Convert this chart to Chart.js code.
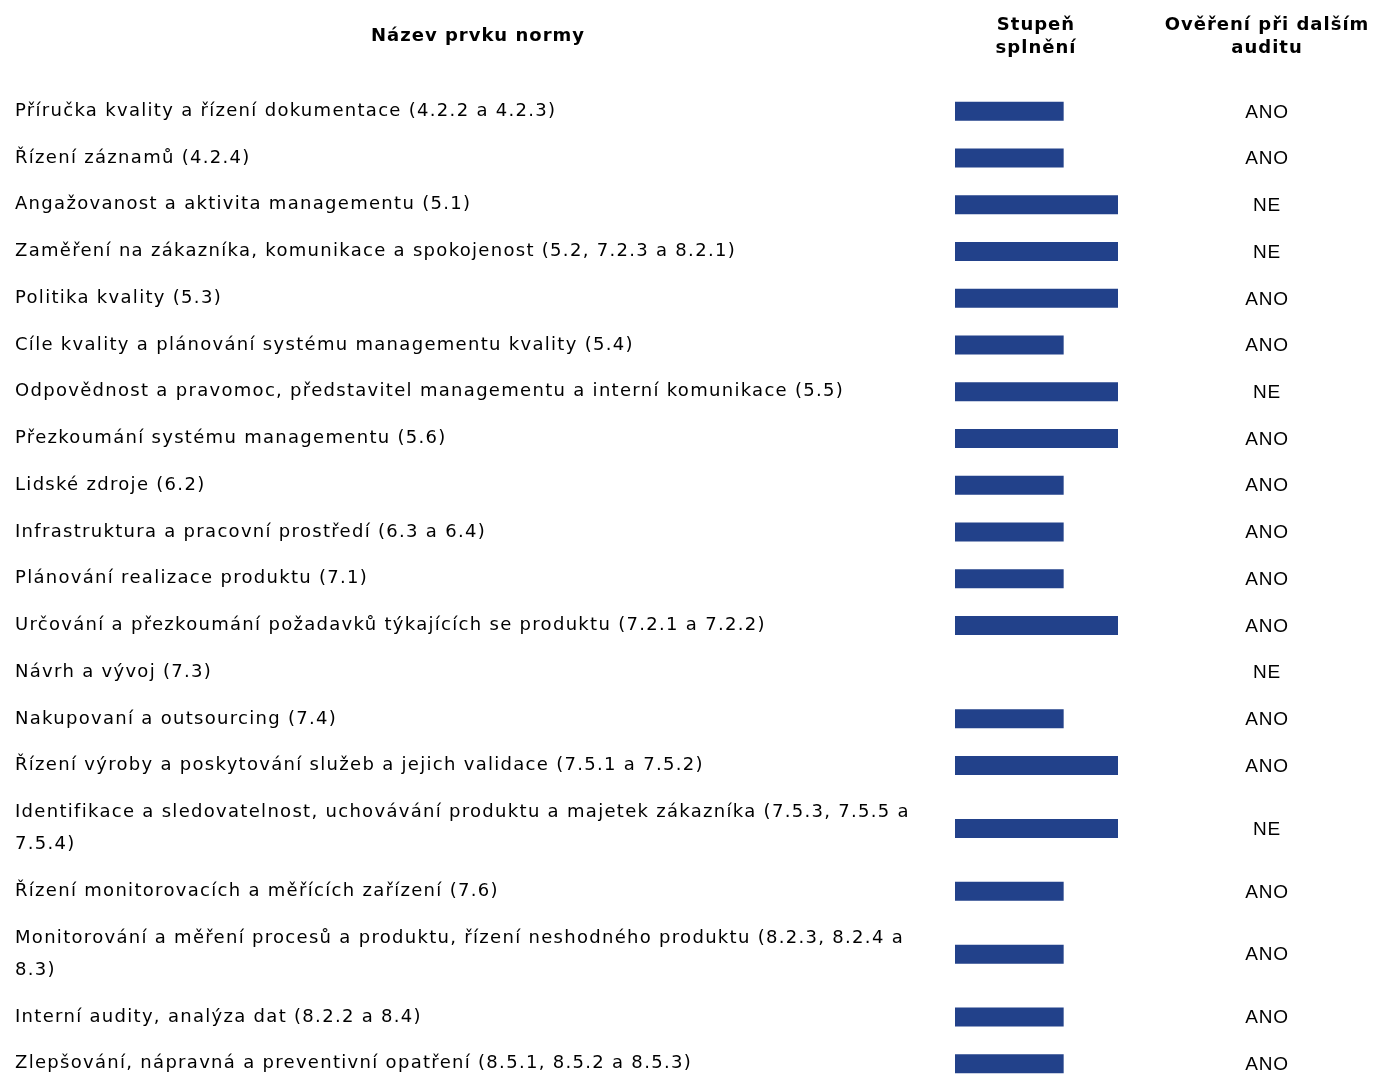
<!DOCTYPE html>
<html>
<head>
<meta charset="utf-8">
<script src="https://cdn.jsdelivr.net/npm/chart.js@4"></script>
<style>
html, body { margin: 0; padding: 0; background: #fff; }
#wrap { width: 1374px; height: 1074px; position: relative; }
</style>
</head>
<body>
<div id="wrap"><canvas id="chart"></canvas></div>
<script>
// row labels (arrays = wrapped onto two lines)
const prvky = [
    'Příručka kvality a řízení dokumentace (4.2.2 a 4.2.3)',
    'Řízení záznamů (4.2.4)',
    'Angažovanost a aktivita managementu (5.1)',
    'Zaměření na zákazníka, komunikace a spokojenost (5.2, 7.2.3 a 8.2.1)',
    'Politika kvality (5.3)',
    'Cíle kvality a plánování systému managementu kvality (5.4)',
    'Odpovědnost a pravomoc, představitel managementu a interní komunikace (5.5)',
    'Přezkoumání systému managementu (5.6)',
    'Lidské zdroje (6.2)',
    'Infrastruktura a pracovní prostředí (6.3 a 6.4)',
    'Plánování realizace produktu (7.1)',
    'Určování a přezkoumání požadavků týkajících se produktu (7.2.1 a 7.2.2)',
    'Návrh a vývoj (7.3)',
    'Nakupovaní a outsourcing (7.4)',
    'Řízení výroby a poskytování služeb a jejich validace (7.5.1 a 7.5.2)',
    ['Identifikace a sledovatelnost, uchovávání produktu a majetek zákazníka (7.5.3, 7.5.5 a', '7.5.4)'],
    'Řízení monitorovacích a měřících zařízení (7.6)',
    ['Monitorování a měření procesů a produktu, řízení neshodného produktu (8.2.3, 8.2.4 a', '8.3)'],
    'Interní audity, analýza dat (8.2.2 a 8.4)',
    'Zlepšování, nápravná a preventivní opatření (8.5.1, 8.5.2 a 8.5.3)'
];

// degree of fulfilment, 0..3
const stupenSplneni = [2, 2, 3, 3, 3, 2, 3, 3, 2, 2, 2, 3, 0, 2, 3, 3, 2, 2, 2, 2];

const overeni = ['ANO', 'ANO', 'NE', 'NE', 'ANO', 'ANO', 'NE', 'ANO', 'ANO', 'ANO',
                 'ANO', 'ANO', 'NE', 'ANO', 'ANO', 'NE', 'ANO', 'ANO', 'ANO', 'ANO'];

const hlavicky = [
    ['Název prvku normy'],
    ['Stupeň', 'splnění'],
    ['Ověření při dalším', 'auditu']
];

// row centres: a wrapped row is taller than a single one
const radky = [];
let pos = 0;
prvky.forEach(p => {
    const h = Array.isArray(p) ? 1.69 : 1;
    radky.push(pos + h / 2);
    pos += h;
});

const textFont = '"DejaVu Sans", Verdana, sans-serif';

const tablePlugin = {
    id: 'tablePlugin',
    beforeDraw(chart) {
        // the labels in the original are spaced out a bit
        chart.ctx.letterSpacing = '1.3px';
    },
    afterDraw(chart) {
        const ctx = chart.ctx;
        const y = chart.scales.y;
        ctx.save();
        ctx.fillStyle = '#000';
        ctx.textAlign = 'center';
        ctx.textBaseline = 'middle';

        // column headers
        ctx.letterSpacing = '1px';
        ctx.font = 'bold 18px ' + textFont;
        const xs = [478, 1036, 1267];
        hlavicky.forEach((h, i) => {
            if (h.length === 1) {
                ctx.fillText(h[0], xs[i], 36);
            } else {
                ctx.fillText(h[0], xs[i], 25);
                ctx.fillText(h[1], xs[i], 48);
            }
        });

        // ANO / NE column
        ctx.letterSpacing = '0.8px';
        ctx.font = '19px "Liberation Sans", Arial, sans-serif';
        overeni.forEach((t, i) => {
            ctx.fillText(t, 1267, y.getPixelForValue(radky[i]) + 1);
        });
        ctx.restore();
    }
};

const ctx = document.getElementById('chart').getContext('2d');
new Chart(ctx, {
    type: 'bar',
    data: {
        datasets: [{
            data: stupenSplneni.map((v, i) => ({ x: v, y: radky[i] })),
            backgroundColor: '#22418a',
            barThickness: 19,
            borderWidth: 0,
            inflateAmount: 0
        }]
    },
    options: {
        indexAxis: 'y',
        responsive: true,
        maintainAspectRatio: false,
        animation: false,
        layout: {
            padding: { left: 15, right: 256, top: 88, bottom: 0 }
        },
        plugins: {
            legend: { display: false },
            tooltip: { enabled: false }
        },
        scales: {
            x: {
                type: 'linear',
                min: 0,
                max: 3,
                display: false
            },
            y: {
                type: 'linear',
                reverse: true,
                offset: false,
                min: 0,
                max: 21.1,
                grid: { display: false, offset: false },
                border: { display: false },
                afterBuildTicks: scale => {
                    scale.ticks = radky.map(v => ({ value: v }));
                },
                afterFit: scale => {
                    scale.width = 940;
                    scale.paddingTop = 0;
                    scale.paddingBottom = 0;
                },
                ticks: {
                    autoSkip: false,
                    crossAlign: 'far',
                    color: '#000',
                    font: { family: textFont, size: 18, lineHeight: 1.78 },
                    callback: (value, index) => prvky[index]
                }
            }
        }
    },
    plugins: [tablePlugin]
});
</script>
</body>
</html>
